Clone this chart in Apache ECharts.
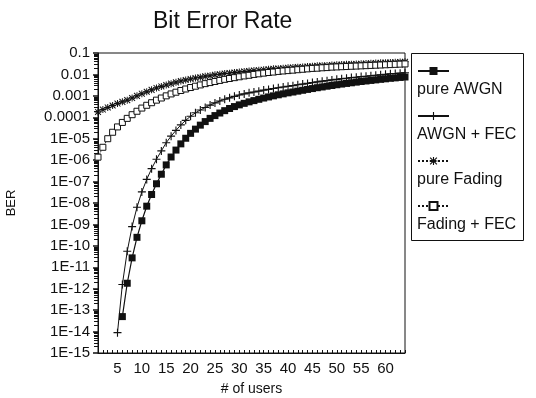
<!DOCTYPE html>
<html>
<head>
<meta charset="utf-8">
<script src="https://cdn.jsdelivr.net/npm/echarts@6/dist/echarts.min.js"></script>
<style>
  html, body { margin: 0; padding: 0; background: #fff; }
  #chart { width: 536px; height: 398px; }
</style>
</head>
<body>
<div id="chart"></div>
<script>
// number of users, 1..64
const users = [];
for (let u = 1; u <= 64; u++) users.push(u);

const xTickLabels = [5, 10, 15, 20, 25, 30, 35, 40, 45, 50, 55, 60];

// BER, one value per user count (null = not plotted)
const pureAwgn = [null, null, null, null, null,
  5.0e-14, 1.8e-12, 2.75e-11, 2.5e-10, 1.48e-9, 7.1e-9, 2.5e-8, 7.9e-8, 2.2e-7, 6.0e-7,
  1.4e-6, 2.95e-6, 5.75e-6, 1.05e-5, 1.78e-5, 2.8e-5, 4.3e-5, 6.3e-5, 8.9e-5, 1.2e-4,
  1.58e-4, 2.04e-4, 2.57e-4, 3.16e-4, 3.8e-4, 4.47e-4, 5.25e-4, 6.0e-4, 6.9e-4, 7.9e-4,
  8.9e-4, 1.0e-3, 1.12e-3, 1.24e-3, 1.38e-3, 1.51e-3, 1.66e-3, 1.82e-3, 2.0e-3, 2.19e-3,
  2.4e-3, 2.6e-3, 2.82e-3, 3.05e-3, 3.3e-3, 3.55e-3, 3.8e-3, 4.07e-3, 4.37e-3, 4.68e-3,
  4.95e-3, 5.25e-3, 5.56e-3, 5.9e-3, 6.24e-3, 6.6e-3, 6.9e-3, 7.24e-3, 7.6e-3];

const awgnFec = [null, null, null, null,
  8.9e-15, 1.58e-12, 5.6e-11, 7.9e-10, 6.3e-9, 3.3e-8, 1.26e-7, 4.0e-7, 1.1e-6, 2.7e-6,
  6.5e-6, 1.32e-5, 2.45e-5, 4.4e-5, 7.2e-5, 1.12e-4, 1.62e-4, 2.19e-4, 2.88e-4, 3.7e-4,
  4.7e-4, 5.75e-4, 6.9e-4, 8.1e-4, 9.5e-4, 1.1e-3, 1.23e-3, 1.38e-3, 1.51e-3, 1.66e-3,
  1.86e-3, 2.0e-3, 2.19e-3, 2.4e-3, 2.6e-3, 2.82e-3, 3.0e-3, 3.3e-3, 3.55e-3, 3.8e-3,
  4.17e-3, 4.47e-3, 4.84e-3, 5.13e-3, 5.56e-3, 5.9e-3, 6.3e-3, 6.6e-3, 7.1e-3, 7.4e-3,
  7.9e-3, 8.2e-3, 8.7e-3, 9.2e-3, 9.55e-3, 0.0101, 0.0107, 0.011, 0.0115, 0.012];

const pureFading = [
  1.78e-4, 2.29e-4, 2.88e-4, 3.55e-4, 4.37e-4, 5.25e-4, 6.31e-4, 7.94e-4, 1.0e-3, 1.26e-3,
  1.55e-3, 1.91e-3, 2.34e-3, 2.75e-3, 3.24e-3, 3.72e-3, 4.27e-3, 4.9e-3, 5.5e-3, 6.17e-3,
  6.76e-3, 7.41e-3, 8.13e-3, 8.71e-3, 9.55e-3, 0.0102, 0.011, 0.0115, 0.0123, 0.0129,
  0.0138, 0.0145, 0.0151, 0.0158, 0.0166, 0.0174, 0.0182, 0.0186, 0.0195, 0.0204,
  0.0209, 0.0219, 0.0224, 0.0234, 0.024, 0.0251, 0.0257, 0.0263, 0.0275, 0.0282,
  0.0288, 0.0295, 0.0302, 0.0309, 0.0316, 0.0324, 0.0331, 0.0339, 0.0347, 0.0355,
  0.0363, 0.0372, 0.038, 0.0389];

const fadingFec = [
  1.38e-6, 3.98e-6, 1.0e-5, 2.0e-5, 3.55e-5, 5.75e-5, 8.91e-5, 1.32e-4, 1.91e-4, 2.69e-4,
  3.63e-4, 4.79e-4, 6.31e-4, 7.94e-4, 1.0e-3, 1.23e-3, 1.48e-3, 1.78e-3, 2.09e-3, 2.45e-3,
  2.82e-3, 3.24e-3, 3.72e-3, 4.17e-3, 4.68e-3, 5.25e-3, 5.89e-3, 6.46e-3, 7.08e-3, 7.76e-3,
  8.51e-3, 9.12e-3, 0.01, 0.0107, 0.0115, 0.0123, 0.0129, 0.0138, 0.0145, 0.0151,
  0.0158, 0.0166, 0.0174, 0.0182, 0.0191, 0.0195, 0.0204, 0.0209, 0.0219, 0.0224,
  0.0229, 0.0234, 0.024, 0.0245, 0.0251, 0.0257, 0.0263, 0.0269, 0.0275, 0.0282,
  0.0288, 0.0295, 0.0302, 0.0309];

const seriesNames = ['pure AWGN', 'AWGN + FEC', 'pure Fading', 'Fading + FEC'];

const FONT = 'Liberation Sans';
const INK = '#111';

const plusSym = 'path://M4.3,0H5.7V4.3H10V5.7H5.7V10H4.3V5.7H0V4.3H4.3Z';
const starSym = 'path://M4.3,0H5.7V10H4.3Z M0,4.3H10V5.7H0Z M1.3,0.3L9.7,8.7L8.7,9.7L0.3,1.3Z M8.7,0.3L9.7,1.3L1.3,9.7L0.3,8.7Z';

function pairs(vals) {
  return users.map((u, i) => [u, vals[i]]);
}

function berLabel(v) {
  const e = Math.round(Math.log10(v));
  if (e >= -4) return v.toFixed(-e);
  return '1E-' + String(-e).padStart(2, '0');
}

const chart = echarts.init(document.getElementById('chart'));

chart.setOption({
  animation: false,
  backgroundColor: '#fff',
  textStyle: { fontFamily: FONT, color: INK },
  title: {
    text: 'Bit Error Rate',
    left: 148,
    top: 5,
    textStyle: { fontFamily: FONT, fontSize: 23, fontWeight: 'normal', color: INK }
  },
  grid: {
    left: 98, right: 131, top: 53, bottom: 45,
    containLabel: false,
    outerBoundsMode: 'none',
    show: true, borderColor: INK, borderWidth: 1, backgroundColor: 'transparent'
  },
  legend: [
    {
      // line samples
      data: seriesNames,
      orient: 'vertical',
      left: 417, top: 64,
      padding: 0,
      itemWidth: 31, itemHeight: 10, itemGap: 31,
      selectedMode: false,
      formatter: () => ' ',
      textStyle: { fontSize: 14, lineHeight: 14 }
    },
    {
      // names under the samples
      data: seriesNames,
      orient: 'vertical',
      left: 412, top: 82,
      padding: 0,
      itemWidth: 0, itemHeight: 0, itemGap: 29,
      selectedMode: false,
      icon: 'none',
      textStyle: { fontFamily: FONT, fontSize: 16, lineHeight: 16, color: INK }
    }
  ],
  graphic: [{
    type: 'rect',
    shape: { x: 411.5, y: 53.5, width: 112, height: 187 },
    style: { fill: 'none', stroke: INK, lineWidth: 1 },
    silent: true
  }],
  xAxis: {
    type: 'value',
    min: 1, max: 64, interval: 1,
    name: '# of users',
    nameLocation: 'middle',
    nameGap: 29,
    nameTextStyle: { fontFamily: FONT, fontSize: 14, color: INK },
    axisLine: { lineStyle: { color: INK, width: 1 } },
    axisTick: { inside: true, length: 3, lineStyle: { color: INK } },
    splitLine: { show: false },
    axisLabel: {
      margin: 8,
      fontFamily: FONT, fontSize: 15, color: INK,
      formatter: v => (xTickLabels.indexOf(v) >= 0 ? String(v) : '')
    }
  },
  yAxis: {
    type: 'log',
    logBase: 10,
    min: 1e-15, max: 0.1, interval: 1,
    name: 'BER',
    nameLocation: 'middle',
    nameGap: 80,
    nameTextStyle: { fontFamily: FONT, fontSize: 13, color: INK },
    axisLine: { lineStyle: { color: INK, width: 1 } },
    axisTick: { length: 5, lineStyle: { color: INK, width: 1.5 } },
    minorTick: { show: true, splitNumber: 9, length: 4, lineStyle: { color: INK } },
    splitLine: { show: false },
    axisLabel: {
      margin: 8,
      fontFamily: FONT, fontSize: 15, color: INK,
      formatter: berLabel
    }
  },
  series: [
    {
      name: 'pure AWGN',
      type: 'line',
      data: pairs(pureAwgn),
      symbol: 'rect', symbolSize: 7,
      showAllSymbol: true,
      itemStyle: { color: INK },
      lineStyle: { color: INK, width: 1.2 }
    },
    {
      name: 'AWGN + FEC',
      type: 'line',
      data: pairs(awgnFec),
      symbol: plusSym, symbolSize: 8,
      showAllSymbol: true,
      itemStyle: { color: INK },
      lineStyle: { color: INK, width: 1 }
    },
    {
      name: 'pure Fading',
      type: 'line',
      data: pairs(pureFading),
      symbol: starSym, symbolSize: 7,
      showAllSymbol: true,
      itemStyle: { color: INK },
      lineStyle: { color: INK, width: 1, type: 'dotted' }
    },
    {
      name: 'Fading + FEC',
      type: 'line',
      data: pairs(fadingFec),
      symbol: 'rect', symbolSize: 6,
      showAllSymbol: true,
      itemStyle: { color: '#fff', borderColor: INK, borderWidth: 1 },
      lineStyle: { color: INK, width: 1, type: 'dotted' }
    }
  ]
});
</script>
</body>
</html>
